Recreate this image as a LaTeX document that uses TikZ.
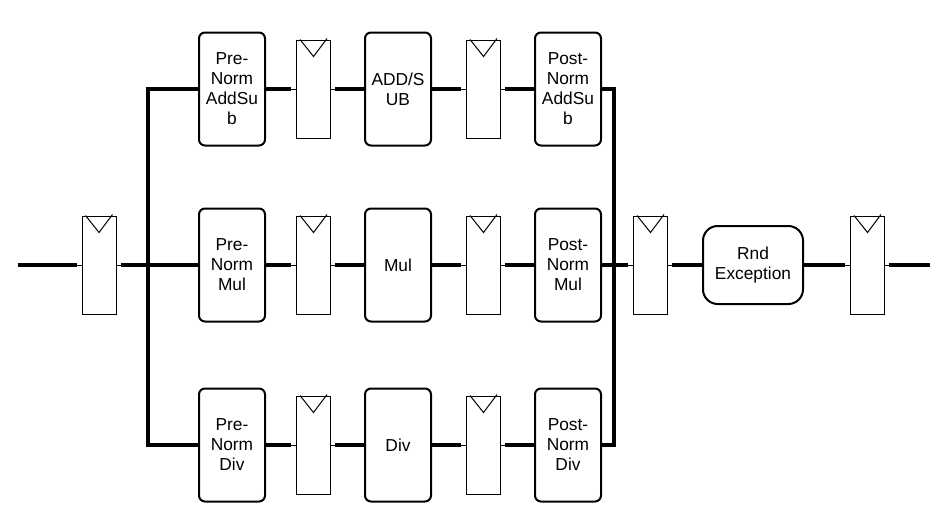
\documentclass[tikz,border=0pt]{standalone}
\usepackage{fontspec}
\setmainfont{Liberation Sans}
\usetikzlibrary{positioning, calc}

\tikzset{
  unit/.style={draw, line width=1.5pt, rounded corners=4.5pt, minimum width=49.5pt, minimum height=84.75pt, inner sep=0pt, align=center},
  rndbox/.style={draw, line width=1.5pt, rounded corners=11pt, minimum width=75pt, minimum height=58.5pt, inner sep=0pt, align=center},
  ffbox/.style={draw, line width=0.75pt, minimum width=25.5pt, minimum height=73.5pt, inner sep=0pt},
  bus/.style={line width=3pt},
  pin/.style={line width=0.75pt}
}

\begin{document}
\begin{tikzpicture}[x=0.75pt, y=-0.75pt, font=\fontsize{13}{15}\selectfont]
    \useasboundingbox (0,0) rectangle (950,522);

    % Input register and fork
    \coordinate (in) at (18,265);
    \node[ffbox] (ffin) at (99,265) {};
    \coordinate (fork) at (148,265);

    % Pre-Norm stage
    \node[unit] (prea) at (232,89) {Pre-\\Norm\\AddSu\\b};
    \node[unit] (prem) at (232,265) {Pre-\\Norm\\Mul};
    \node[unit] (pred) at (232,445) {Pre-\\Norm\\Div};
    \node[ffbox] (ffa1) at (313.5,89) {};
    \node[ffbox] (ffm1) at (313.5,265) {};
    \node[ffbox] (ffd1) at (313.5,445) {};

    % Operation stage
    \node[unit] (adds) at (398,89) {ADD/S\\UB};
    \node[unit] (mul) at (398,265) {Mul};
    \node[unit] (div) at (398,445) {Div};
    \node[ffbox] (ffa2) at (483.5,89) {};
    \node[ffbox] (ffm2) at (483.5,265) {};
    \node[ffbox] (ffd2) at (483.5,445) {};

    % Post-Norm stage
    \node[unit] (posta) at (568,89) {Post-\\Norm\\AddSu\\b};
    \node[unit] (postm) at (568,265) {Post-\\Norm\\Mul};
    \node[unit] (postd) at (568,445) {Post-\\Norm\\Div};
    \coordinate (join) at (614,265);

    % Rounding and output
    \node[ffbox] (ffrnd) at (650.5,265) {};
    \node[rndbox] (rnd) at (753,265) {Rnd\\Exception};
    \node[ffbox] (ffout) at (867.5,265) {};
    \coordinate (out) at (930,265);

    % Clock marks and pins of the registers
    \foreach \r in {ffin,ffa1,ffm1,ffd1,ffa2,ffm2,ffd2,ffrnd,ffout} {
        \draw[pin] ($(\r.north west)+(4,0)$) -- ($(\r.north)+(0,17)$) -- ($(\r.north east)+(-4,-1)$);
        \draw[pin] (\r.west) -- ++(-5,0) coordinate (\r-in);
        \draw[pin] (\r.east) -- ++(4,0) coordinate (\r-out);
    }

    % Buses
    \draw[bus] (in) -- (ffin-in);
    \draw[bus] (ffin-out) -- (fork) -- (prem.west);
    \draw[bus] (prea.west) -| (fork) |- (pred.west);
    \foreach \p/\op in {a/adds, m/mul, d/div} {
        \draw[bus] (pre\p.east) -- (ff\p1-in);
        \draw[bus] (ff\p1-out) -- (\op.west);
        \draw[bus] (\op.east) -- (ff\p2-in);
        \draw[bus] (ff\p2-out) -- (post\p.west);
    }
    \draw[bus] (posta.east) -| (join) |- (postd.east);
    \draw[bus] (postm.east) -- (join) -- (ffrnd-in);
    \draw[bus] (ffrnd-out) -- (rnd.west);
    \draw[bus] (rnd.east) -- (ffout-in);
    \draw[bus] (ffout-out) -- (out);
\end{tikzpicture}
\end{document}
